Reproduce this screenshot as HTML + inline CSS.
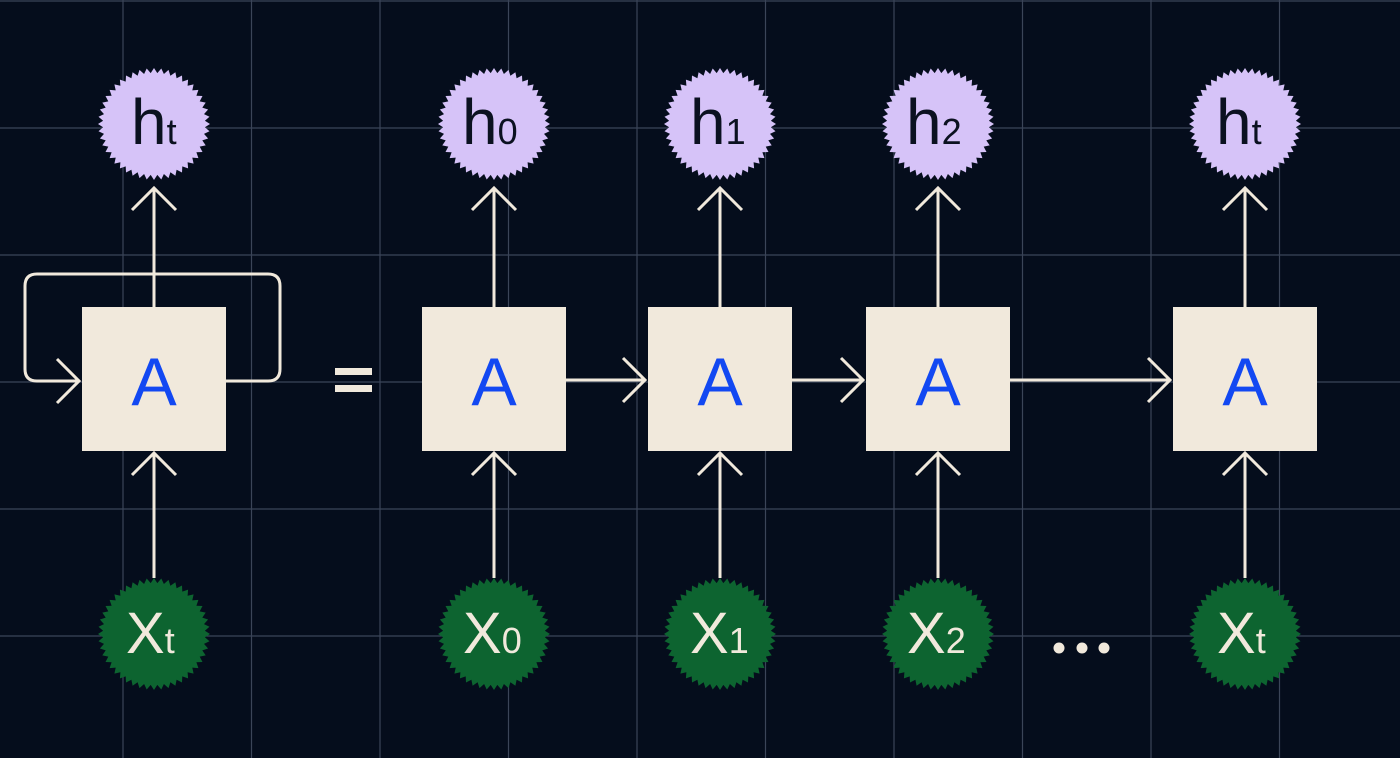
<!DOCTYPE html>
<html><head><meta charset="utf-8"><style>
html,body{margin:0;padding:0;background:#050d1c;}
svg{display:block}
text{font-family:"Liberation Sans","DejaVu Sans",sans-serif}
</style></head><body>
<svg id="s" width="1400" height="758" viewBox="0 0 1400 758" xmlns="http://www.w3.org/2000/svg">
<rect width="1400" height="758" fill="#050d1c"/>
<g id="grid" stroke="#3b4558" stroke-width="1.2"></g>
<g id="stars"></g>
<g fill="none" stroke="#f1e9dc" stroke-width="3" stroke-linecap="butt">
<!-- loop -->
<path d="M226,381 H268 Q280,381 280,369 V286 Q280,274 268,274 H37 Q25,274 25,286 V369 Q25,381 37,381 H79"/>
<path d="M57,359 L79,381 L57,403"/>
<!-- vertical up arrows -->
<g id="arrows"></g>
<!-- horizontal -->
<path d="M566,380 H645 M623,358 L645,380 L623,402"/>
<path d="M792,380 H863 M841,358 L863,380 L841,402"/>
<path d="M1010,380 H1170 M1148,358 L1170,380 L1148,402"/>
</g>
<g fill="#f1e9dc">
<rect x="335" y="368" width="37" height="7"/>
<rect x="335" y="385" width="37" height="7"/>
<circle cx="1059" cy="648" r="5.5"/><circle cx="1082" cy="648" r="5.5"/><circle cx="1104" cy="648" r="5.5"/>
</g>
<g fill="#f1e9dc">
<rect x="82" y="307" width="144" height="144"/>
<rect x="422" y="307" width="144" height="144"/>
<rect x="648" y="307" width="144" height="144"/>
<rect x="866" y="307" width="144" height="144"/>
<rect x="1173" y="307" width="144" height="144"/>
</g>
<g fill="#1248f2" font-size="68" text-anchor="middle">
<text x="154" y="405">A</text><text x="494" y="405">A</text><text x="720" y="405">A</text><text x="938" y="405">A</text><text x="1245" y="405">A</text>
</g>
<g fill="#0b1120" font-size="64">
<text x="131" y="144">h<tspan font-size="36">t</tspan></text>
<text x="462" y="144">h<tspan font-size="36">0</tspan></text>
<text x="690" y="144">h<tspan font-size="36">1</tspan></text>
<text x="906" y="144">h<tspan font-size="36">2</tspan></text>
<text x="1216" y="144">h<tspan font-size="36">t</tspan></text>
</g>
<g fill="#f1e9dc" font-size="58">
<text x="126" y="653">X<tspan font-size="36">t</tspan></text>
<text x="463" y="653">X<tspan font-size="36">0</tspan></text>
<text x="690" y="653">X<tspan font-size="36">1</tspan></text>
<text x="907" y="653">X<tspan font-size="36">2</tspan></text>
<text x="1217" y="653">X<tspan font-size="36">t</tspan></text>
</g>
</svg>
<script>
var ns="http://www.w3.org/2000/svg";
var g=document.getElementById("grid");
for(var i=0;i<11;i++){var x=123+128.5*i;var l=document.createElementNS(ns,"line");l.setAttribute("x1",x);l.setAttribute("x2",x);l.setAttribute("y1",0);l.setAttribute("y2",758);g.appendChild(l);}
for(var j=0;j<6;j++){var y=1+127*j;var l=document.createElementNS(ns,"line");l.setAttribute("y1",y);l.setAttribute("y2",y);l.setAttribute("x1",0);l.setAttribute("x2",1400);g.appendChild(l);}
var st=document.getElementById("stars");
function star(cx,cy,c){var n=48,p=[];for(var k=0;k<n*2;k++){var r=k%2?51:56;var a=Math.PI*k/n;p.push((cx+r*Math.cos(a)).toFixed(1)+","+(cy+r*Math.sin(a)).toFixed(1));}
var e=document.createElementNS(ns,"polygon");e.setAttribute("points",p.join(" "));e.setAttribute("fill",c);st.appendChild(e);}
var xs=[154,494,720,938,1245];
var ar=document.getElementById("arrows");
xs.forEach(function(x){star(x,124,"#d6c3f8");star(x,634,"#0d6430");
var p=document.createElementNS(ns,"path");
p.setAttribute("d","M"+x+",307 V188 M"+(x-22)+",210 L"+x+",188 L"+(x+22)+",210 M"+x+",578 V453 M"+(x-22)+",475 L"+x+",453 L"+(x+22)+",475");
ar.appendChild(p);});
</script>
</body></html>
